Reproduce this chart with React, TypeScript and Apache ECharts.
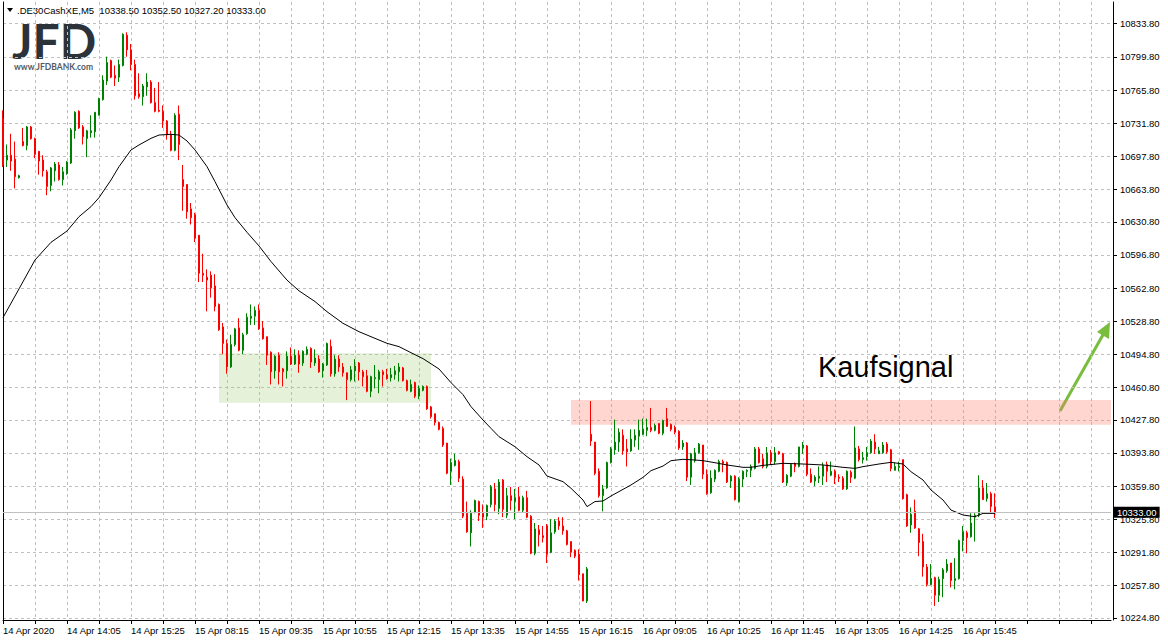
import React, { useEffect, useRef } from "react";
import * as echarts from "echarts";

// [open, close, low, high]
const day14Apr: number[][] = [
  [10737,10689,10687,10745],[10694,10699,10687,10710],[10699,10693,10683,10721],[10695,10677,10665,10713],
  [10676,10678,10675,10679],[10713,10709,10708,10727],[10709,10728,10704,10729],[10728,10716,10715,10729],
  [10716,10700,10696,10717],[10703,10693,10679,10703],[10694,10683,10677,10699],[10682,10667,10658,10684],
  [10668,10686,10662,10687],[10683,10690,10672,10692],[10689,10674,10673,10692],[10674,10682,10668,10687],
  [10680,10692,10679,10693],[10691,10725,10690,10727],[10724,10743,10716,10744],[10744,10727,10726,10745],
  [10728,10718,10710,10730],[10716,10724,10697,10725],[10722,10724,10717,10740],[10723,10743,10717,10743],
  [10740,10757,10740,10758],[10756,10776,10755,10781],[10775,10794,10771,10800],[10796,10779,10778,10797],
  [10781,10778,10770,10791],[10779,10792,10774,10797],[10791,10823,10790,10824],[10822,10807,10800,10825],
  [10807,10792,10786,10813],[10792,10760,10756,10797],[10762,10759,10757,10783],[10759,10770,10750,10772],
  [10769,10774,10760,10783],[10774,10753,10752,10776],[10753,10744,10743,10768],[10745,10744,10743,10774],
  [10744,10734,10727,10750],[10734,10720,10715,10735],[10720,10704,10703,10724],[10704,10740,10703,10742],
  [10741,10710,10694,10750]
];

const day15Apr: number[][] = [
  [10674,10667,10642,10689],[10669,10641,10634,10669],[10644,10635,10628,10650],[10638,10614,10610,10640],
  [10617,10578,10569,10617],[10578,10576,10569,10598],[10574,10571,10539,10582],[10576,10563,10553,10580],
  [10565,10544,10539,10577],[10546,10520,10519,10547],[10523,10506,10495,10527],[10506,10482,10475,10510],
  [10482,10505,10481,10515],[10505,10521,10503,10522],[10522,10499,10498,10532],[10499,10515,10495,10517],
  [10516,10533,10515,10537],[10532,10534,10525,10546],[10534,10540,10525,10544],[10540,10521,10520,10546],
  [10522,10511,10510,10529],[10513,10494,10484,10513],[10497,10477,10464,10498],[10478,10493,10470,10494],
  [10494,10477,10464,10497],[10480,10477,10462,10481],[10478,10493,10470,10498],[10493,10485,10484,10502],
  [10485,10494,10484,10500],[10494,10485,10476,10499],[10486,10498,10483,10499],[10495,10500,10494,10503],
  [10501,10487,10481,10502],[10486,10491,10483,10500],[10490,10477,10476,10494],[10478,10485,10471,10486],
  [10484,10506,10483,10507],[10503,10475,10472,10510],[10475,10490,10472,10494],[10490,10482,10477,10494],
  [10482,10476,10472,10486],[10476,10469,10448,10476],[10469,10479,10467,10483],[10478,10483,10467,10490],
  [10486,10477,10468,10487],[10477,10472,10462,10479],[10473,10457,10456,10479],[10457,10472,10451,10473],
  [10470,10471,10460,10484],[10469,10477,10455,10479],[10477,10474,10462,10479],[10474,10470,10469,10480],
  [10471,10474,10467,10481],[10474,10478,10469,10483],[10477,10482,10467,10486],[10481,10468,10467,10482],
  [10468,10458,10457,10469],[10457,10464,10456,10469],[10466,10452,10450,10467],[10452,10460,10449,10463],
  [10458,10462,10457,10463],[10462,10439,10438,10463],[10441,10431,10429,10442],[10434,10425,10422,10434],
  [10425,10418,10417,10426],[10419,10402,10400,10421],[10404,10373,10372,10404],[10375,10384,10361,10388],
  [10381,10386,10380,10393],[10385,10368,10364,10387],[10367,10329,10327,10370],[10332,10313,10312,10344],
  [10312,10332,10298,10335],[10333,10345,10332,10346],[10344,10330,10324,10345],[10332,10328,10317,10341],
  [10329,10340,10325,10341],[10341,10359,10338,10361],[10357,10341,10334,10363],[10337,10364,10331,10367],
  [10366,10336,10328,10367],[10330,10350,10327,10358],[10350,10345,10335,10359],[10344,10348,10326,10357],
  [10349,10335,10334,10359],[10335,10348,10333,10350],[10348,10328,10327,10355],[10329,10291,10290,10330],
  [10291,10316,10289,10322],[10315,10310,10298,10320],[10309,10307,10302,10319],[10319,10290,10281,10321],
  [10292,10312,10291,10326],[10313,10324,10311,10326],[10324,10319,10315,10328],[10319,10314,10310,10328],
  [10314,10300,10299,10315],[10303,10292,10287,10303],[10294,10288,10286,10295],[10290,10269,10263,10295],
  [10270,10242,10242,10270],[10242,10275,10240,10277]
];

const day16Apr: number[][] = [
  [10413,10406,10401,10447],[10405,10373,10371,10405],[10375,10350,10348,10378],[10350,10357,10334,10361],
  [10358,10384,10357,10385],[10384,10398,10383,10400],[10397,10405,10392,10428],[10405,10415,10395,10419],
  [10412,10396,10392,10418],[10398,10395,10380,10408],[10396,10408,10395,10418],[10407,10412,10400,10418],
  [10411,10417,10397,10428],[10413,10418,10412,10429],[10417,10420,10411,10429],[10420,10417,10415,10440],
  [10417,10422,10416,10424],[10424,10414,10413,10424],[10414,10427,10412,10428],[10429,10421,10421,10440],
  [10423,10418,10416,10424],[10420,10415,10413,10422],[10416,10399,10397,10417],[10400,10404,10397,10407],
  [10404,10369,10365,10405],[10369,10393,10361,10394],[10386,10394,10384,10399],[10394,10403,10393,10404],
  [10402,10372,10367,10402],[10372,10352,10351,10377],[10353,10368,10352,10376],[10367,10376,10364,10377],
  [10375,10385,10374,10387],[10385,10383,10374,10387],[10384,10364,10363,10385],[10365,10370,10358,10371],
  [10370,10346,10345,10371],[10344,10367,10343,10369],[10367,10375,10359,10376],[10375,10376,10369,10377],
  [10376,10380,10369,10382],[10378,10398,10377,10400],[10398,10384,10383,10400],[10388,10380,10378,10393],
  [10380,10394,10378,10400],[10394,10385,10382,10397],[10385,10394,10382,10400],[10395,10393,10392,10396],
  [10393,10364,10363,10394],[10363,10371,10360,10372],[10370,10382,10369,10383],[10383,10380,10374,10384],
  [10380,10400,10379,10400],[10399,10402,10393,10405],[10401,10372,10370,10402],[10372,10364,10363,10378],
  [10365,10369,10360,10371],[10368,10370,10363,10380],[10370,10381,10361,10384],[10382,10375,10364,10385],
  [10371,10375,10370,10385],[10375,10369,10362,10377],[10369,10368,10364,10372],[10368,10357,10356,10370],
  [10357,10375,10356,10376],[10374,10369,10363,10376],[10368,10399,10367,10421],[10398,10387,10385,10401],
  [10387,10389,10383,10395],[10390,10394,10386,10400],[10394,10406,10393,10408],[10405,10398,10393,10413],
  [10393,10396,10393,10400],[10394,10402,10393,10405],[10403,10395,10393,10405],[10397,10378,10375,10398],
  [10376,10380,10376,10384],[10379,10380,10375,10385],[10387,10347,10346,10387],[10351,10319,10318,10352],
  [10320,10331,10312,10338],[10334,10317,10316,10346],[10316,10302,10288,10317],[10303,10277,10267,10311],
  [10277,10259,10257,10280],[10259,10265,10258,10280],[10266,10248,10237,10267],[10248,10264,10241,10267],
  [10265,10274,10246,10276],[10273,10280,10271,10285],[10281,10263,10256,10281],[10263,10265,10254,10286],
  [10265,10304,10264,10305],[10304,10313,10293,10319],[10312,10307,10291,10314],[10308,10322,10307,10332],
  [10328,10330,10303,10332],[10330,10358,10328,10371],[10358,10346,10346,10366],[10347,10352,10344,10363],
  [10352,10339,10332,10354],[10338.5,10333.0,10327.2,10352.5]
];

// moving average, read at sample bars: bar index and value
const maBars = [0,4,8,12,16,19,22,24,27,29,32,34,37,39,42,44,46,48,51,53,56,58,61,64,67,71,74,78,81,85,89,94,96,99,102,105,109,112,115,117,120,122,124,128,131,134,136,140,142,145,146,148,150,152,155,157,160,162,165,167,170,173,175,178,181,185,187,190,195,200,205,210,213,215,219,222,225,227,230,232,235,237,240,243,245,248];
const maValues = [10532.5,10562,10591.6,10609.7,10621.3,10636,10646.3,10655.5,10673.6,10687.3,10704.4,10709.5,10716.3,10719.7,10720.4,10719.7,10713.6,10704.4,10687.3,10671.9,10648,10635,10620,10606,10590,10571,10560,10549,10538.6,10526.7,10518.1,10509.6,10506.2,10502.8,10496.6,10490.5,10479.9,10465.9,10453.6,10441.3,10427.6,10419,10410.5,10400.2,10390,10381.5,10370.2,10364.4,10357.6,10345.6,10338.8,10344,10344.6,10349.7,10356.5,10361,10368.8,10375.7,10380.4,10385.9,10387.3,10386.6,10385.9,10383.8,10381.5,10379.1,10379.1,10381.1,10383.2,10382.5,10381.5,10379.1,10378,10379.8,10382.5,10384.2,10382.5,10374.6,10366.1,10355.8,10345.6,10335.3,10330.2,10328.5,10331.9,10331.9];

// trading sessions: day, first bar minute of day, bar count (last session includes empty future slots)
const sessions: [string, number, number][] = [["14 Apr", 765, 45], ["15 Apr", 480, 102], ["16 Apr", 480, 131]];

const xTickLabels = ["14 Apr 2020","14 Apr 14:05","14 Apr 15:25","15 Apr 08:15","15 Apr 09:35","15 Apr 10:55","15 Apr 12:15","15 Apr 13:35","15 Apr 14:55","15 Apr 16:15","16 Apr 09:05","16 Apr 10:25","16 Apr 11:45","16 Apr 13:05","16 Apr 14:25","16 Apr 15:45"];
const yTickValues = [10224.8,10257.8,10291.8,10325.8,10359.8,10393.8,10427.8,10460.8,10494.8,10528.8,10562.8,10596.8,10630.8,10663.8,10697.8,10731.8,10765.8,10799.8,10833.8];

const lastPrice = 10333.0;
const headerText = ".DE30CashXE,M5  10338.50 10352.50 10327.20 10333.00";
const consolidationZone = { fromBar: 54, toBar: 107, low: 10445.2, high: 10495.9 };
const buyZone = { fromBar: 142, toBar: 277, low: 10422.7, high: 10448.0 };
const yMin = 10222.6;
const yMax = 10856.05;

const pad = (n: number) => (n < 10 ? "0" + n : "" + n);
const categories: string[] = [];
sessions.forEach(([day, start, count]) => {
  for (let k = 0; k < count; k++) {
    const m = start + 5 * k;
    categories.push(`${day} ${pad(Math.floor(m / 60))}:${pad(m % 60)}`);
  }
});

const candles = [...day14Apr, ...day15Apr, ...day16Apr];
const maData = maBars.map((b, k) => [b, maValues[k]]);

const FONT = "Liberation Sans";

export default function App() {
  const ref = useRef<HTMLDivElement>(null);
  useEffect(() => {
    if (!ref.current) return;
    const chart = echarts.init(ref.current, undefined, { renderer: "svg" });
    chart.setOption({
      animation: false,
      backgroundColor: "#fff",
      grid: { left: 3, top: 2, width: 1108, height: 618, containLabel: false },
      xAxis: {
        type: "category",
        data: categories,
        boundaryGap: false,
        axisLine: { show: true, lineStyle: { color: "#000", width: 1 } },
        axisTick: { show: true, interval: (i: number) => i % 8 === 0, length: 4, lineStyle: { color: "#000" } },
        axisLabel: {
          interval: (i: number) => i % 16 === 0 && i / 16 < xTickLabels.length,
          formatter: (_v: string, i: number) => xTickLabels[i / 16] ?? "",
          align: "left",
          margin: 5,
          fontSize: 9.5,
          fontFamily: FONT,
          color: "#000",
        },
        splitLine: { show: true, interval: (i: number) => i % 8 === 0 && i > 0, lineStyle: { color: "#c0c0c0", type: [3, 3], width: 1 } },
      },
      yAxis: [
        {
          type: "value",
          position: "right",
          offset: 2,
          min: yMin,
          max: yMax,
          axisLine: { show: true, lineStyle: { color: "#000", width: 1 } },
          axisTick: { show: true, length: 4, customValues: yTickValues, lineStyle: { color: "#000" } },
          axisLabel: {
            customValues: yTickValues,
            formatter: (v: number) => v.toFixed(2),
            margin: 7,
            fontSize: 9.5,
            fontFamily: FONT,
            color: "#000",
          },
          splitLine: { show: true, lineStyle: { color: "#c0c0c0", type: [3, 3], width: 1 } },
        },
        {
          type: "value",
          position: "left",
          min: yMin,
          max: yMax,
          axisLine: { show: true, lineStyle: { color: "#000", width: 1 } },
          axisTick: { show: false },
          axisLabel: { show: false },
          splitLine: { show: false },
        },
      ],
      series: [
        {
          type: "candlestick",
          data: candles,
          yAxisIndex: 0,
          barWidth: 2,
          itemStyle: { color: "#008000", color0: "#ff0000", borderColor: "#008000", borderColor0: "#ff0000", borderWidth: 1 },
          markArea: {
            silent: true,
            z: 1,
            data: [
              [
                { xAxis: categories[consolidationZone.fromBar], yAxis: consolidationZone.high, itemStyle: { color: "rgba(160,205,120,0.28)" } },
                { xAxis: categories[consolidationZone.toBar], yAxis: consolidationZone.low },
              ],
              [
                { xAxis: categories[buyZone.fromBar], yAxis: buyZone.high, itemStyle: { color: "rgba(255,120,100,0.3)" } },
                { xAxis: categories[buyZone.toBar], yAxis: buyZone.low },
              ],
            ],
          },
          markLine: {
            silent: true,
            symbol: "none",
            data: [{ yAxis: lastPrice }],
            lineStyle: { color: "#c0c0c0", type: "solid", width: 1 },
            label: {
              show: true,
              position: "end",
              formatter: lastPrice.toFixed(2),
              backgroundColor: "#000",
              color: "#fff",
              padding: [1, 3, 0, 3],
              fontSize: 9.5,
              fontFamily: FONT,
              distance: 3,
            },
          },
        },
        {
          type: "line",
          data: maData,
          yAxisIndex: 0,
          showSymbol: false,
          symbol: "none",
          z: 3,
          lineStyle: { color: "#000", width: 1 },
        },
      ],
      graphic: [
        { type: "polygon", shape: { points: [[7, 8], [13, 8], [10, 12]] }, style: { fill: "#000" } },
        { type: "text", x: 17, y: 10, style: { text: headerText, fontSize: 9.5, lineHeight: 10, fontFamily: FONT, fill: "#000", verticalAlign: "middle" } },
        { type: "text", x: 12, y: 40, style: { text: "JFD", fontSize: 48, lineHeight: 34, fontWeight: "bold", fontFamily: "Lato", fill: "#2b323a", verticalAlign: "middle" } },
        { type: "text", x: 14, y: 67, style: { text: "www.JFDBANK.com", fontSize: 8.5, lineHeight: 8, fontWeight: "bold", fontFamily: "Lato", fill: "#505a64", verticalAlign: "middle" } },
        { type: "text", x: 818, y: 367, style: { text: "Kaufsignal", fontSize: 29, fontFamily: FONT, fill: "#000", verticalAlign: "middle" } },
        { type: "line", shape: { x1: 1060, y1: 411, x2: 1104, y2: 333 }, style: { stroke: "#78be3c", lineWidth: 3 } },
        { type: "polygon", shape: { points: [[1110, 322], [1109, 339], [1097, 332]] }, style: { fill: "#78be3c" } },
      ],
    });
    return () => chart.dispose();
  }, []);
  return <div ref={ref} style={{ position: "fixed", left: 0, top: 0, width: 1168, height: 641 }} />;
}
